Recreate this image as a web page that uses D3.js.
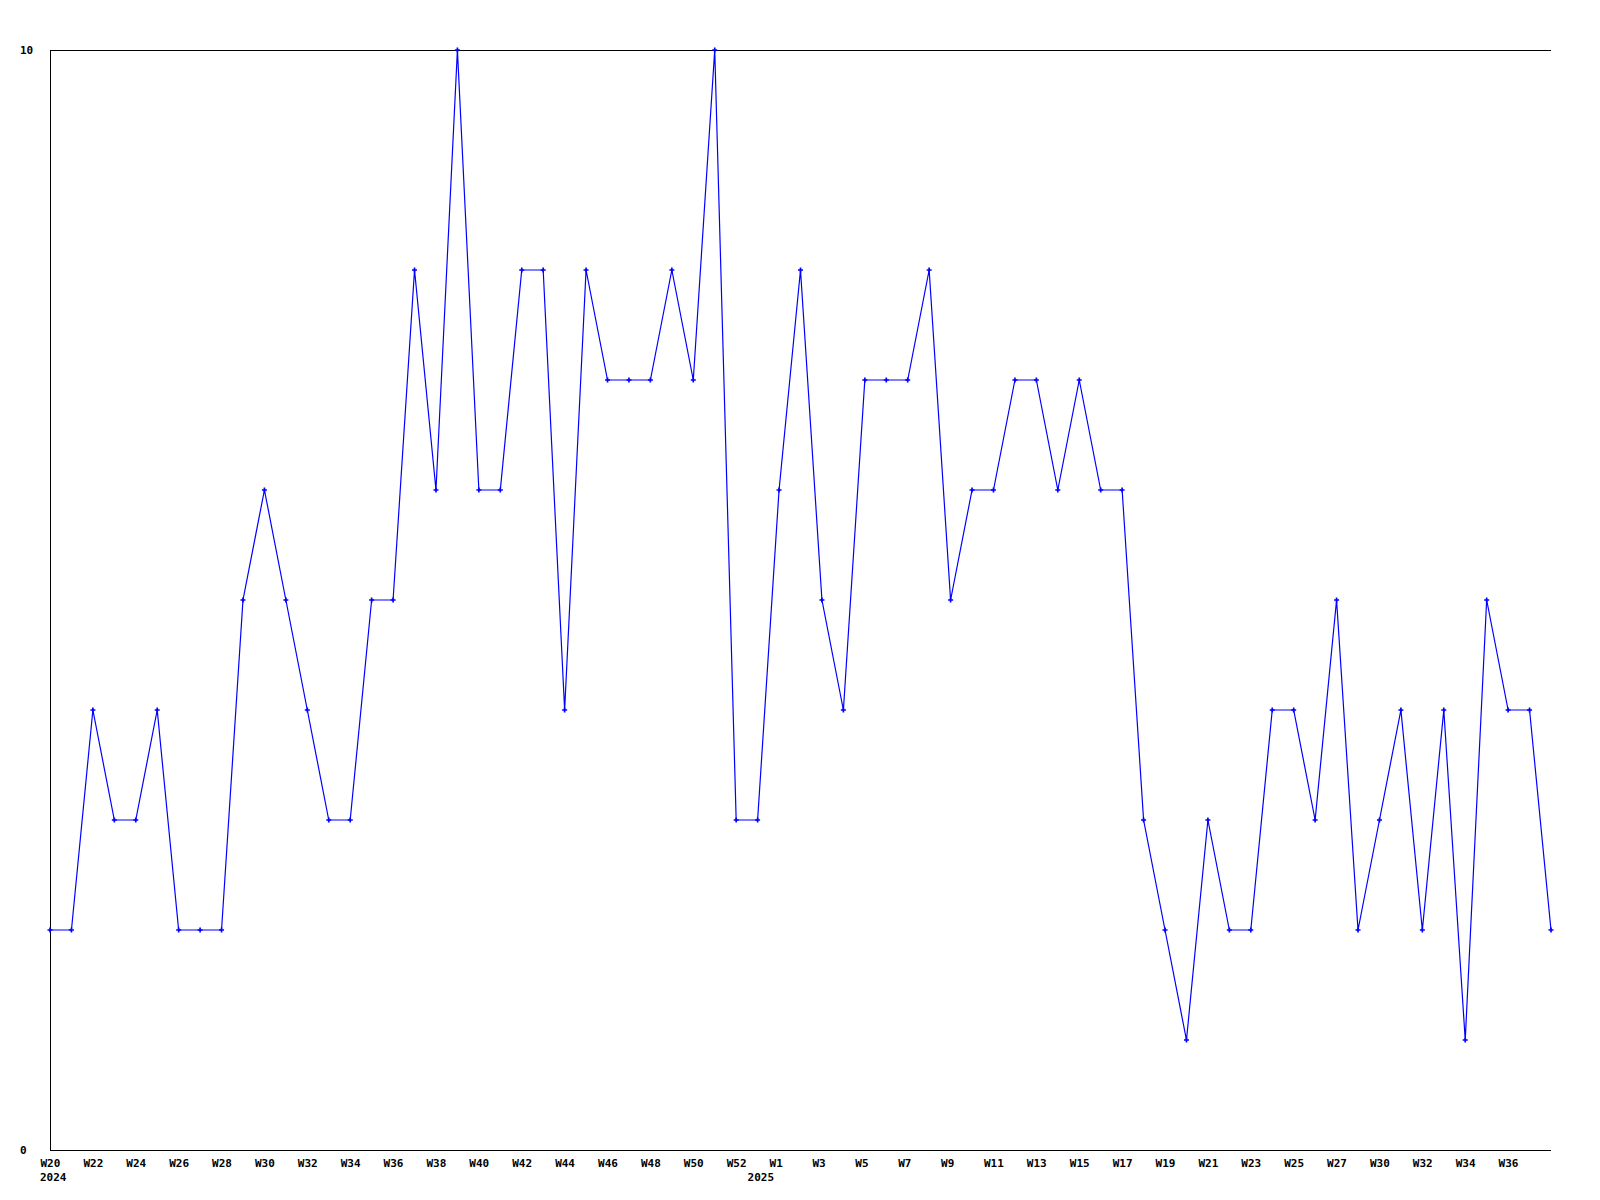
<!DOCTYPE html>
<html>
<head>
<meta charset="utf-8">
<script src="https://cdn.jsdelivr.net/npm/d3@7"></script>
<style>
body { margin: 0; background: #fff; }
text { font-family: "DejaVu Sans Mono", monospace; font-weight: bold; font-size: 11px; fill: #000; }
</style>
</head>
<body>
<svg id="chart"></svg>
<script>
var width = 1600,
height = 1200;

// week labels, one per point (2025 starts with a partial week 0, week 28 has no entry)
const weeks = [
"W20","W21","W22","W23","W24","W25","W26","W27","W28","W29",
"W30","W31","W32","W33","W34","W35","W36","W37","W38","W39",
"W40","W41","W42","W43","W44","W45","W46","W47","W48","W49",
"W50","W51","W52",
"W0","W1","W2","W3","W4","W5","W6","W7","W8","W9",
"W10","W11","W12","W13","W14","W15","W16","W17","W18","W19",
"W20","W21","W22","W23","W24","W25","W26","W27","W29",
"W30","W31","W32","W33","W34","W35","W36","W37","W38"
];

// year label and index of the first week of that year
const years = ["2024", "2025"];
const yearStart = [0, 33];

const values = [
2,2,4,3,3,4,2,2,2,5,
6,5,4,3,3,5,5,8,6,10,
6,6,8,8,4,8,7,7,7,8,
7,10,3,3,6,8,5,4,7,7,
7,8,5,6,6,7,7,6,7,6,
6,3,2,1,3,2,2,4,4,3,
5,2,3,4,2,4,1,5,4,4,2
];

const yTicks = [0, 10];

var mLeft = 50, mRight = 1551, mTop = 50, mBottom = 1150;

const svg = d3.select("#chart")
.attr("width", width)
.attr("height", height);

var x = d3.scaleLinear()
.domain([0, values.length - 1])
.range([mLeft, mRight]);

var y = d3.scaleLinear()
.domain([0, 10])
.range([mBottom, mTop]);

// frame: left, top and bottom lines
svg.append("g")
.selectAll("line")
.data([[mLeft, mTop, mLeft, mBottom], [mLeft, mTop, mRight, mTop], [mLeft, mBottom, mRight, mBottom]])
.enter().append("line")
.attr("x1", d => d[0]).attr("y1", d => d[1])
.attr("x2", d => d[2]).attr("y2", d => d[3])
.attr("stroke", "#000")
.attr("shape-rendering", "crispEdges");

// x axis, every other week is labelled (the last one is left out)
var xAxis = d3.axisBottom(x)
.tickValues(d3.range(0, values.length - 2, 2))
.tickFormat(i => weeks[i])
.tickSize(0);

var gx = svg.append("g")
.attr("transform", "translate(0," + mBottom + ")")
.call(xAxis);
gx.select(".domain").remove();
gx.attr("font-size", null).attr("font-family", null);
gx.selectAll("text")
.attr("text-anchor", "start")
.attr("x", -10)
.attr("y", 17)
.attr("dy", null)
.attr("fill", "#000");

// year labels under the first week of each year
svg.append("g")
.selectAll("text")
.data(years)
.enter().append("text")
.attr("x", (d, i) => x(yearStart[i]) - 10)
.attr("y", mBottom + 31)
.text(d => d);

// y axis
var yAxis = d3.axisLeft(y)
.tickValues(yTicks)
.tickSize(0);

var gy = svg.append("g")
.attr("transform", "translate(" + mLeft + ",0)")
.call(yAxis);
gy.select(".domain").remove();
gy.attr("font-size", null).attr("font-family", null);
gy.selectAll("text")
.attr("text-anchor", "start")
.attr("x", -30)
.attr("dy", "0.35em")
.attr("fill", "#000");

// the series
var line = d3.line()
.x((d, i) => x(i))
.y(d => y(d));

svg.append("path")
.datum(values)
.attr("d", line)
.attr("fill", "none")
.attr("stroke", "#0000ff")
.attr("stroke-width", 1.2);

svg.append("g")
.selectAll("path")
.data(values)
.enter().append("path")
.attr("transform", (d, i) => "translate(" + x(i) + "," + y(d) + ")")
.attr("d", d3.symbol(d3.symbolCross, 14))
.attr("fill", "#0000ff");
</script>
</body>
</html>
